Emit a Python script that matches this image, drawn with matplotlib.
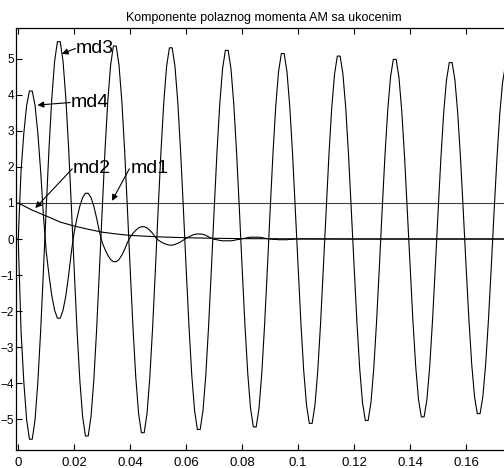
import numpy as np
import matplotlib
matplotlib.use("Agg")
import matplotlib.pyplot as plt

# md1: constant component
t1 = [0.0, 0.176]
md1 = [1.0, 1.0]

# md2: decaying aperiodic component
t2 = [0.0, 0.005, 0.01, 0.015, 0.02, 0.025, 0.03, 0.035, 0.04, 0.05,
      0.06, 0.07, 0.08, 0.1, 0.12, 0.176]
md2 = [1.0, 0.80, 0.64, 0.47, 0.36, 0.27, 0.19, 0.14, 0.10, 0.06,
       0.035, 0.02, 0.01, 0.005, 0.0, 0.0]

# md3: stator-frequency component, sampled every 1 ms
md3 = [
    0.0, -2.56, -3.98, -5.02, -5.56, -5.56, -5.02, -3.98, -2.56, -0.88,
    0.87, 2.52, 3.92, 4.94, 5.48, 5.48, 4.94, 3.92, 2.52, 0.87,
    -0.86, -2.52, -3.92, -4.93, -5.47, -5.47, -4.93, -3.92, -2.52, -0.86,
    0.85, 2.47, 3.84, 4.83, 5.36, 5.36, 4.83, 3.84, 2.47, 0.85,
    -0.85, -2.47, -3.85, -4.85, -5.38, -5.38, -4.85, -3.85, -2.47, -0.85,
    0.84, 2.44, 3.80, 4.79, 5.31, 5.31, 4.79, 3.80, 2.44, 0.84,
    -0.84, -2.43, -3.79, -4.77, -5.29, -5.29, -4.77, -3.79, -2.43, -0.84,
    0.83, 2.41, 3.75, 4.73, 5.24, 5.24, 4.73, 3.75, 2.41, 0.83,
    -0.83, -2.40, -3.74, -4.71, -5.22, -5.22, -4.71, -3.74, -2.40, -0.83,
    0.81, 2.37, 3.69, 4.65, 5.15, 5.15, 4.65, 3.69, 2.37, 0.81,
    -0.81, -2.36, -3.67, -4.62, -5.12, -5.12, -4.62, -3.67, -2.36, -0.81,
    0.80, 2.34, 3.64, 4.58, 5.08, 5.08, 4.58, 3.64, 2.34, 0.80,
    -0.80, -2.32, -3.61, -4.55, -5.04, -5.04, -4.55, -3.61, -2.32, -0.80,
    0.79, 2.30, 3.57, 4.50, 4.99, 4.99, 4.50, 3.57, 2.30, 0.79,
    -0.78, -2.27, -3.54, -4.46, -4.94, -4.94, -4.46, -3.54, -2.27, -0.78,
    0.77, 2.25, 3.51, 4.42, 4.90, 4.90, 4.42, 3.51, 2.25, 0.77,
    -0.77, -2.23, -3.47, -4.37, -4.85, -4.85, -4.37, -3.47, -2.23, -0.77,
    0.76, 2.21, 3.44, 4.33, 4.80, 4.80, 4.33,
]
t3 = np.arange(len(md3)) * 0.001

# md4: damped rotor component, sampled every 1 ms, then settled at zero
md4 = [
    0.0, 1.89, 2.94, 3.71, 4.11, 4.11, 3.71, 2.94, 1.89, 0.65,
    -0.35, -1.01, -1.58, -1.98, -2.20, -2.20, -1.98, -1.58, -1.01, -0.35,
    0.20, 0.58, 0.91, 1.15, 1.27, 1.27, 1.15, 0.91, 0.58, 0.20,
    -0.10, -0.29, -0.45, -0.57, -0.63, -0.63, -0.57, -0.45, -0.29, -0.10,
    0.05, 0.16, 0.24, 0.31, 0.34, 0.34, 0.31, 0.24, 0.16, 0.05,
    -0.03, -0.08, -0.12, -0.15, -0.17, -0.17, -0.15, -0.12, -0.08, -0.03,
    0.02, 0.06, 0.10, 0.13, 0.14, 0.14, 0.13, 0.10, 0.06, 0.02,
    -0.01, -0.02, -0.04, -0.05, -0.05, -0.05, -0.05, -0.04, -0.02, -0.01,
    0.01, 0.02, 0.04, 0.05, 0.05, 0.05, 0.05, 0.04, 0.02, 0.01,
    0.0, -0.01, -0.01, -0.02, -0.02, -0.02, -0.02, -0.01, -0.01, 0.0,
    0.0,
]
t4 = list(np.arange(len(md4) - 1) * 0.001) + [0.176]

xticks = [0, 0.02, 0.04, 0.06, 0.08, 0.1, 0.12, 0.14, 0.16]
xticklabels = ["0", "0.02", "0.04", "0.06", "0.08", "0.1", "0.12", "0.14", "0.16"]
yticks = [-5, -4, -3, -2, -1, 0, 1, 2, 3, 4, 5]

# label text, text anchor, arrow head
labels = [
    ("md3", (0.0207, 5.17), (0.0156, 5.14)),
    ("md4", (0.0189, 3.67), (0.0069, 3.72)),
    ("md2", (0.0196, 1.83), (0.0061, 0.86)),
    ("md1", (0.0400, 1.83), (0.0335, 1.06)),
]

plt.rcParams["font.family"] = ["Liberation Sans", "DejaVu Sans"]

fig = plt.figure(figsize=(5.04, 4.68), dpi=100)
ax = fig.add_axes([16 / 504, 18 / 468, 496 / 504, 422 / 468])

lw = 0.8
ax.plot(t1, md1, color="#404040", lw=lw)
ax.plot(t2, md2, color="black", lw=lw)
ax.plot(t3, md3, color="black", lw=lw)
ax.plot(t4, md4, color="black", lw=lw)

for text, xy_text, xy_head in labels:
    ax.annotate(
        "",
        xy=xy_head,
        xytext=(xy_text[0] - 0.0003, xy_text[1] + 0.12),
        arrowprops=dict(arrowstyle="-|>", color="black", lw=0.8,
                        mutation_scale=9, shrinkA=0, shrinkB=0),
    )
    ax.text(xy_text[0], xy_text[1], text, fontsize=14, ha="left", va="baseline")

ax.set_xlim(-0.0008, 0.1764)
ax.set_ylim(-5.86, 5.86)
ax.set_xticks(xticks)
ax.set_xticklabels(xticklabels)
ax.set_yticks(yticks)
ax.tick_params(direction="in", length=4, width=0.8, top=True, right=True)
ax.tick_params(axis="x", labelsize=9.5, pad=5)
ax.tick_params(axis="y", labelsize=8.5, pad=1.5)
for side in ("left", "bottom", "top"):
    ax.spines[side].set_linewidth(0.9)
ax.spines["right"].set_visible(False)

ax.set_title("Komponente polaznog momenta AM sa ukocenim", fontsize=9, pad=5)

fig.savefig("out.png", dpi=100)
